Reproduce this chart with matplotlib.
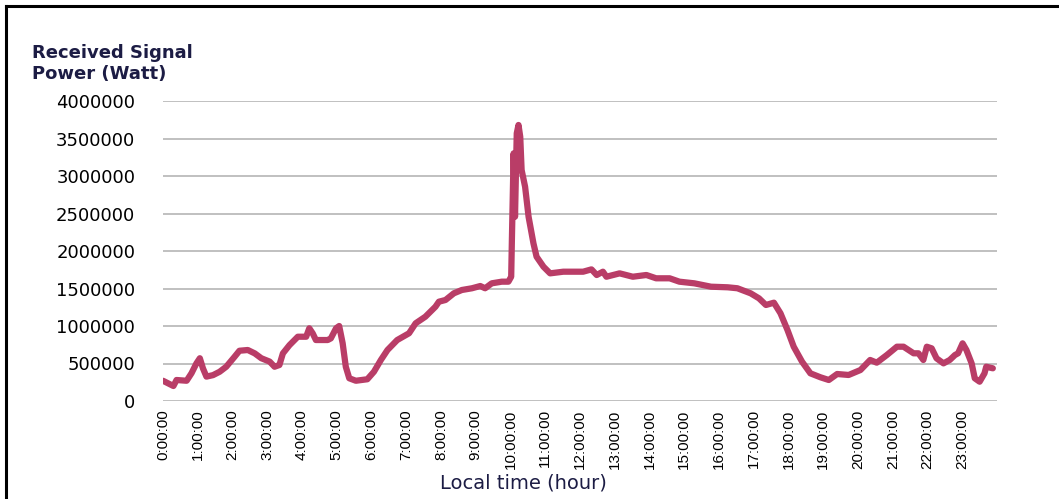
import matplotlib.pyplot as plt
from matplotlib.lines import Line2D

hours = [
    0.0, 0.3, 0.39, 0.68, 0.82, 0.96, 1.06, 1.15, 1.25, 1.44, 1.63, 1.82,
    2.06, 2.2, 2.44, 2.64, 2.83, 3.07, 3.21, 3.35, 3.45, 3.64, 3.88, 4.12,
    4.21, 4.31, 4.4, 4.74, 4.83, 4.98, 5.07, 5.17, 5.26, 5.36, 5.55, 5.88,
    6.07, 6.27, 6.46, 6.74, 7.08, 7.27, 7.55, 7.84, 7.94, 8.13, 8.37, 8.6,
    8.89, 9.13, 9.27, 9.46, 9.75, 9.94, 10.02, 10.04, 10.09, 10.13, 10.18,
    10.23, 10.28, 10.32, 10.42, 10.52, 10.66, 10.75, 10.95, 11.14, 11.52,
    12.09, 12.33, 12.48, 12.66, 12.76, 13.14, 13.52, 13.91, 14.19, 14.58,
    14.86, 15.29, 15.77, 16.25, 16.53, 16.91, 17.15, 17.35, 17.58, 17.77,
    17.97, 18.15, 18.39, 18.63, 18.92, 19.16, 19.4, 19.73, 20.07, 20.35,
    20.54, 20.83, 21.12, 21.31, 21.6, 21.74, 21.88, 21.98, 22.12, 22.26,
    22.46, 22.64, 22.79, 22.88, 23.01, 23.12, 23.27, 23.36, 23.5, 23.64,
    23.69, 23.88,
]
power = [
    270000, 200000, 280000, 270000, 370000, 500000, 570000, 435000, 325000,
    345000, 390000, 457000, 590000, 670000, 680000, 635000, 570000, 525000,
    457000, 480000, 635000, 745000, 857000, 857000, 970000, 900000, 813000,
    813000, 835000, 970000, 1000000, 770000, 457000, 303000, 270000, 290000,
    390000, 547000, 680000, 813000, 903000, 1036000, 1124000, 1257000,
    1324000, 1347000, 1436000, 1480000, 1503000, 1533000, 1503000, 1569000,
    1591000, 1591000, 1657000, 2147000, 3302000, 2457000, 3569000, 3680000,
    3524000, 3080000, 2857000, 2457000, 2103000, 1924000, 1790000, 1702000,
    1724000, 1724000, 1755000, 1680000, 1724000, 1657000, 1702000, 1657000,
    1680000, 1636000, 1636000, 1591000, 1569000, 1524000, 1516000, 1503000,
    1436000, 1369000, 1280000, 1311000, 1169000, 947000, 724000, 524000,
    369000, 316000, 280000, 360000, 347000, 413000, 547000, 511000, 613000,
    724000, 724000, 636000, 636000, 547000, 724000, 702000, 569000, 502000,
    547000, 613000, 636000, 769000, 680000, 502000, 303000, 257000, 369000,
    457000, 436000,
]
tick_hours = list(range(24))
tick_labels = [f"{h}:00:00" for h in tick_hours]
y_ticks = list(range(0, 4000001, 500000))

navy = "#1c1c44"

fig = plt.figure(figsize=(10.59, 4.99), dpi=100)
ax = fig.add_axes([163 / 1059, 1 - 401 / 499, (997 - 163) / 1059, 300 / 499])

ax.plot(hours, power, color="#B93D67", lw=4.5, solid_joinstyle="round",
        solid_capstyle="round")

ax.set_xlim(0, 24)
ax.set_ylim(0, 4000000)
ax.set_yticks(y_ticks)
ax.set_yticklabels([str(v) for v in y_ticks], fontsize=13, color="black",
                   family="DejaVu Sans")
ax.set_xticks(tick_hours)
ax.set_xticklabels(tick_labels, rotation=90, fontsize=11,
                   family=["Liberation Sans Narrow", "DejaVu Sans Condensed",
                           "Liberation Sans"])
ax.tick_params(length=0)
ax.tick_params(axis="y", pad=20)
ax.tick_params(axis="x", pad=6)
ax.grid(axis="y", color="#c0c0c0", lw=1.4)
ax.set_axisbelow(True)
for s in ax.spines.values():
    s.set_visible(False)

fig.text(32 / 1059, 1 - 44 / 499, "Received Signal\nPower (Watt)",
         fontsize=13, fontweight="bold", color=navy, ha="left", va="top",
         linespacing=1.2, family="DejaVu Sans")
fig.text(523 / 1059, 1 - 483 / 499, "Local time (hour)", fontsize=14,
         color=navy, ha="center", va="center", family="DejaVu Sans")

# frame around the figure (top and left edges visible)
fig.add_artist(Line2D([6 / 1059, 6 / 1059], [0, 1 - 6 / 499],
                      transform=fig.transFigure, color="black", lw=2.2))
fig.add_artist(Line2D([6 / 1059, 1], [1 - 6 / 499, 1 - 6 / 499],
                      transform=fig.transFigure, color="black", lw=2.2))

fig.savefig("out.png", dpi=100)
